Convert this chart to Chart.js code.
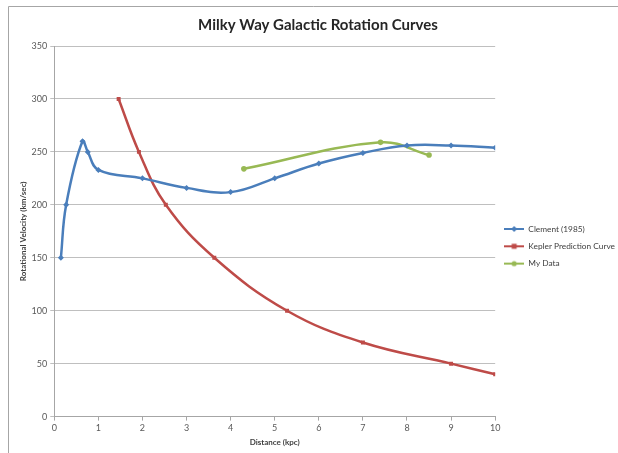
<!DOCTYPE html>
<html>
<head>
<meta charset="utf-8">
<script src="https://cdn.jsdelivr.net/npm/chart.js@4/dist/chart.umd.min.js"></script>
<style>
  html, body { margin: 0; padding: 0; background: #fff; }
  #wrap { width: 618px; height: 453px; }
</style>
</head>
<body>
<div id="wrap"><canvas id="c" width="618" height="453"></canvas></div>
<script>
// Rotation curve data (distance in kpc, velocity in km/sec)
const clementDist = [0.15, 0.27, 0.64, 0.76, 1.0, 2.0, 3.0, 4.0, 5.0, 6.0, 7.0, 8.0, 9.0, 10.0];
const clementVel  = [150, 200, 260, 250, 233, 225, 216, 212, 225, 239, 249, 256, 256, 254];

const keplerDist = [1.46, 1.92, 2.53, 3.63, 5.28, 7.0, 9.0, 10.0];
const keplerVel  = [300, 250, 200, 150, 100, 70, 50, 40];

const myDist = [4.3, 7.4, 8.5];
const myVel  = [234, 259, 247];

const seriesNames = ['Clement (1985)', 'Kepler Prediction Curve', 'My Data'];
const xTicks = [0, 1, 2, 3, 4, 5, 6, 7, 8, 9, 10];
const yTicks = [0, 50, 100, 150, 200, 250, 300, 350];

const BLUE = '#4A7EBB', RED = '#BE4B48', GREEN = '#98B954';
const FONT = 'Lato, "Open Sans", sans-serif';

function pairs(xs, ys) { return xs.map((x, i) => ({ x: x, y: ys[i] })); }

// Small line-with-marker icons for the legend
function legendIcon(color, style) {
  const cv = document.createElement('canvas');
  cv.width = 20; cv.height = 8;
  const g = cv.getContext('2d');
  g.strokeStyle = color; g.lineWidth = 2;
  g.beginPath(); g.moveTo(0, 4); g.lineTo(20, 4); g.stroke();
  g.fillStyle = color;
  g.beginPath();
  if (style === 'rectRot') { g.moveTo(10, 1); g.lineTo(13, 4); g.lineTo(10, 7); g.lineTo(7, 4); g.closePath(); }
  else if (style === 'rect') { g.rect(7.5, 1.5, 5, 5); }
  else { g.arc(10, 4, 2.6, 0, Math.PI * 2); }
  g.fill();
  return cv;
}
const icons = [legendIcon(BLUE, 'rectRot'), legendIcon(RED, 'rect'), legendIcon(GREEN, 'circle')];

// Light frame along the top and left edges of the chart
const framePlugin = {
  id: 'frame',
  beforeDraw(chart) {
    const ctx = chart.ctx;
    ctx.save();
    ctx.fillStyle = '#fff';
    ctx.fillRect(0, 0, chart.width, chart.height);
    ctx.strokeStyle = '#a6a6a6';
    ctx.lineWidth = 1;
    ctx.beginPath();
    ctx.moveTo(8.5, chart.height);
    ctx.lineTo(8.5, 6.5);
    ctx.lineTo(chart.width, 6.5);
    ctx.stroke();
    ctx.restore();
  }
};

function lineDataset(label, xs, ys, color, style) {
  return {
    label: label,
    data: pairs(xs, ys),
    borderColor: color,
    backgroundColor: color,
    borderWidth: 2.5,
    pointStyle: style,
    pointRadius: style === 'rectRot' ? 3 : 2.8,
    pointBorderWidth: 0,
    tension: 0.4,
    fill: false
  };
}

new Chart(document.getElementById('c'), {
  type: 'line',
  data: {
    datasets: [
      lineDataset(seriesNames[0], clementDist, clementVel, BLUE, 'rectRot'),
      lineDataset(seriesNames[1], keplerDist, keplerVel, RED, 'rect'),
      lineDataset(seriesNames[2], myDist, myVel, GREEN, 'circle')
    ]
  },
  options: {
    responsive: false,
    animation: false,
    layout: { padding: { left: 11, right: -7, top: 6, bottom: 6 } },
    plugins: {
      title: {
        display: true,
        text: 'Milky Way Galactic Rotation Curves',
        color: '#262626',
        font: { family: FONT, size: 15, weight: 'bold' },
        padding: { top: 10, bottom: 12 }
      },
      legend: {
        position: 'right',
        align: 'center',
        title: { display: true, text: '', font: { size: 8 }, padding: { top: 15, bottom: 15 } },
        labels: {
          usePointStyle: true,
          pointStyleWidth: 20,
          boxHeight: 8,
          padding: 9,
          color: '#404040',
          font: { family: FONT, size: 8.3 },
          generateLabels(chart) {
            const items = Chart.defaults.plugins.legend.labels.generateLabels(chart);
            items.forEach((it, i) => { it.pointStyle = icons[i]; });
            return items;
          }
        }
      },
      tooltip: { enabled: false }
    },
    scales: {
      x: {
        type: 'linear',
        min: 0, max: 10,
        afterBuildTicks(scale) { scale.ticks = xTicks.map(v => ({ value: v })); },
        ticks: { color: '#595959', font: { family: FONT, size: 9 }, padding: 2 },
        grid: { drawOnChartArea: false, drawTicks: true, tickLength: 4, color: '#a6a6a6' },
        border: { color: '#a6a6a6' },
        title: {
          display: true, text: 'Distance (kpc)', color: '#404040',
          font: { family: FONT, size: 8, weight: 'bold' }, padding: { top: 2, bottom: 0 }
        }
      },
      y: {
        type: 'linear',
        min: 0, max: 350,
        afterBuildTicks(scale) { scale.ticks = yTicks.map(v => ({ value: v })); },
        ticks: { color: '#595959', font: { family: FONT, size: 9 }, padding: 3 },
        grid: { color: '#bfbfbf', tickLength: 4 },
        border: { color: '#a6a6a6' },
        title: {
          display: true, text: 'Rotational Velocity (km/sec)', color: '#404040',
          font: { family: FONT, size: 8, weight: 'bold' }, padding: { top: 8, bottom: 0 }
        }
      }
    }
  },
  plugins: [framePlugin]
});
</script>
</body>
</html>
